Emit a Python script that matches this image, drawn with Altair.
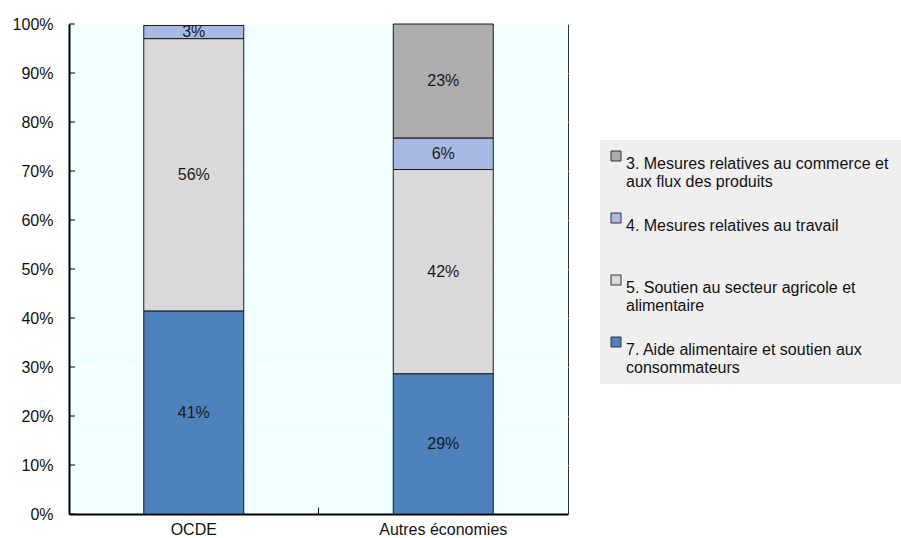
import altair as alt
import pandas as pd

# Share of measures by category, in percent of the total
groups = ["OCDE", "Autres économies"]
categories = [
    "3.  Mesures relatives au commerce et\naux flux des produits",
    "4. Mesures relatives au travail\n",
    "5. Soutien au secteur agricole et\nalimentaire",
    "7. Aide alimentaire et soutien aux\nconsommateurs",
]
ocde_values = [0.0, 2.7, 55.6, 41.4]
autres_values = [23.3, 6.4, 41.7, 28.6]
stack_order = [4, 3, 2, 1]  # 7. at the bottom, 3. on top
colors = ["#ADADAD", "#A8BAE3", "#D9D9D9", "#4F81BD"]
y_ticks = [0, 10, 20, 30, 40, 50, 60, 70, 80, 90, 100]

rows = []
for g, vals in zip(groups, [ocde_values, autres_values]):
    for cat, v, o in zip(categories, vals, stack_order):
        rows.append({"groupe": g, "categorie": cat, "valeur": v, "ordre": o})
df = pd.DataFrame(rows)
df["label"] = df["valeur"].apply(lambda v: f"{round(v):.0f}%" if v >= 1 else "")

FONT = "Liberation Sans, Arial, sans-serif"
x_scale = alt.Scale(domain=groups, paddingInner=0, paddingOuter=0)

x_enc = alt.X(
    "groupe:N",
    scale=x_scale,
    axis=alt.Axis(title=None, labelAngle=0, ticks=False, domainColor="#000000",
                  domainWidth=2, labelFontSize=16, labelColor="#111111",
                  labelPadding=7, labelFont=FONT),
)

base = alt.Chart(df)

bars = base.transform_filter("datum.valeur > 0").mark_bar(
    width=100, stroke="#1a1a1a", strokeWidth=1
).encode(
    x=x_enc,
    y=alt.Y(
        "valeur:Q",
        stack="zero",
        scale=alt.Scale(domain=[0, 100], nice=False),
        axis=alt.Axis(title=None, values=y_ticks, labelExpr="datum.value + '%'",
                      ticks=False, grid=True, gridColor="#FFFFFF", gridWidth=1,
                      domainColor="#000000", domainWidth=2, labelFontSize=16,
                      labelColor="#111111", labelPadding=16, labelFont=FONT),
    ),
    color=alt.Color(
        "categorie:N",
        scale=alt.Scale(domain=categories, range=colors),
        legend=alt.Legend(
            title=None, orient="none", legendX=531, legendY=116,
            fillColor="#EFEFEF", padding=8, labelFontSize=16, labelFont=FONT,
            labelColor="#111111", labelLimit=400, labelExpr="split(datum.label, '\\n')",
            symbolType="square", symbolSize=100, symbolStrokeColor="#333333",
            symbolStrokeWidth=1, rowPadding=20, labelOffset=2, labelBaseline="top",
            symbolOpacity=1,
        ),
    ),
    order=alt.Order("ordre:Q"),
)

labels = base.mark_text(fontSize=16, font=FONT, color="#1a1a1a").transform_stack(
    stack="valeur", groupby=["groupe"], sort=[alt.SortField("ordre")], as_=["y0", "y1"]
).transform_calculate(mid="(datum.y0 + datum.y1) / 2").encode(
    x=alt.X("groupe:N", scale=x_scale),
    y=alt.Y("mid:Q"),
    text="label:N",
)

# Small inward tick marks on the value axis
ticks_df = pd.DataFrame({"t": y_ticks})
y_tick_marks = alt.Chart(ticks_df).mark_rule(color="#000000", strokeWidth=1).encode(
    y="t:Q", x=alt.value(0), x2=alt.value(6)
)

# Inward tick between the two groups on the category axis
x_tick_mark = alt.Chart(pd.DataFrame({"g": [groups[0]]})).mark_rule(
    color="#000000", strokeWidth=1
).encode(
    x=alt.X("g:N", scale=x_scale, bandPosition=1),
    y=alt.datum(0),
    y2=alt.datum(1.3),
)

chart = (
    alt.layer(bars, labels, y_tick_marks, x_tick_mark)
    .properties(
        width=499, height=490,
        padding={"left": 69, "top": 24, "right": 333, "bottom": 24},
        autosize=alt.AutoSizeParams(type="none"),
        background="#FFFFFF",
    )
    .configure_view(fill="#F0FFFF", stroke="#333333", strokeWidth=1)
)

chart.save("out.html", embed_options={"renderer": "svg", "actions": False})
